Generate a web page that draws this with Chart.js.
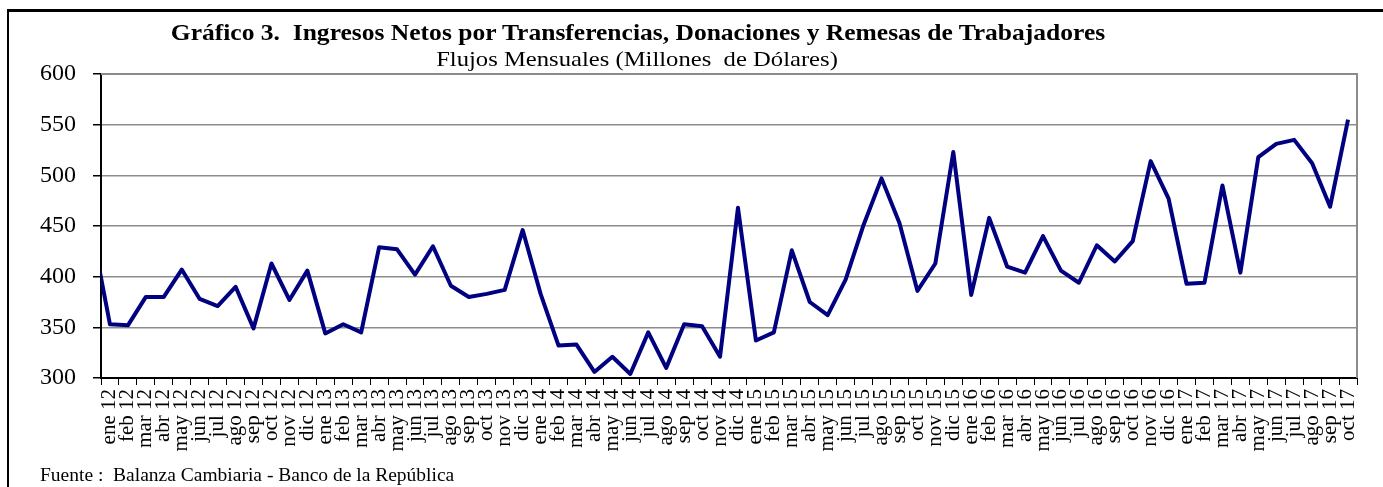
<!DOCTYPE html>
<html lang="es">
<head>
<meta charset="utf-8">
<title>Gráfico 3. Ingresos Netos por Transferencias, Donaciones y Remesas de Trabajadores</title>
<script src="https://cdn.jsdelivr.net/npm/chart.js@4/dist/chart.umd.min.js"></script>
<style>
  html, body { margin: 0; padding: 0; background: #fff; overflow: hidden; }
  #wrap { position: relative; width: 1383px; height: 487px; font-family: "Liberation Serif", "Times New Roman", serif; color: #000; }
  #frame { position: absolute; left: 7px; top: 9px; width: 1400px; height: 500px; border-left: 2px solid #000; border-top: 3px solid #000; }
  #chart { position: absolute; left: 0; top: 0; }
  .txt { position: absolute; white-space: pre; line-height: 1; }
  #title { left: 0; width: 1276px; top: 21px; text-align: center; font-weight: bold; font-size: 23px; transform: scaleX(1.11); transform-origin: 638px 0; }
  #subtitle { left: 0; width: 1274px; top: 48px; text-align: center; font-size: 22px; transform: scaleX(1.12); transform-origin: 637px 0; }
  #source { left: 40px; top: 465px; font-size: 19.5px; }
</style>
</head>
<body>
<div id="wrap">
  <div id="frame"></div>
  <canvas id="chart" width="1383" height="487"></canvas>
  <div class="txt" id="title">Gráfico 3.  Ingresos Netos por Transferencias, Donaciones y Remesas de Trabajadores</div>
  <div class="txt" id="subtitle">Flujos Mensuales (Millones  de Dólares)</div>
  <div class="txt" id="source">Fuente :  Balanza Cambiaria - Banco de la República</div>
</div>
<script>
// Monthly categories; "dic 11" sits just left of the visible axis range
const months = [
  'dic 11',
  'ene 12', 'feb 12', 'mar 12', 'abr 12', 'may 12', 'jun 12', 'jul 12', 'ago 12', 'sep 12', 'oct 12', 'nov 12', 'dic 12',
  'ene 13', 'feb 13', 'mar 13', 'abr 13', 'may 13', 'jun 13', 'jul 13', 'ago 13', 'sep 13', 'oct 13', 'nov 13', 'dic 13',
  'ene 14', 'feb 14', 'mar 14', 'abr 14', 'may 14', 'jun 14', 'jul 14', 'ago 14', 'sep 14', 'oct 14', 'nov 14', 'dic 14',
  'ene 15', 'feb 15', 'mar 15', 'abr 15', 'may 15', 'jun 15', 'jul 15', 'ago 15', 'sep 15', 'oct 15', 'nov 15', 'dic 15',
  'ene 16', 'feb 16', 'mar 16', 'abr 16', 'may 16', 'jun 16', 'jul 16', 'ago 16', 'sep 16', 'oct 16', 'nov 16', 'dic 16',
  'ene 17', 'feb 17', 'mar 17', 'abr 17', 'may 17', 'jun 17', 'jul 17', 'ago 17', 'sep 17', 'oct 17'
];

// Net income, millions of USD
const ingresosNetos = [
  445,
  353, 352, 380, 380, 407, 378, 371, 390, 349, 413, 377, 406,
  344, 353, 345, 429, 427, 402, 430, 391, 380, 383, 387, 446,
  383, 332, 333, 306, 321, 304, 345, 310, 353, 351, 321, 468,
  337, 345, 426, 375, 362, 397, 451, 497, 453, 386, 413, 523,
  382, 458, 410, 404, 440, 406, 394, 431, 415, 435, 514, 477,
  393, 394, 490, 404, 518, 531, 535, 512, 469, 555
];

const firstMonth = 'ene 12';
const yTicks = [300, 350, 400, 450, 500, 550, 600];

// gray frame on the top and right side of the plot area
const plotBorder = {
  id: 'plotBorder',
  beforeDatasetsDraw(chart) {
    const { ctx, chartArea: a } = chart;
    ctx.save();
    ctx.strokeStyle = '#8c8c8c';
    ctx.lineWidth = 2;
    ctx.beginPath();
    ctx.moveTo(a.left, a.top);
    ctx.lineTo(a.right, a.top);
    ctx.lineTo(a.right, a.bottom);
    ctx.stroke();
    ctx.restore();
  }
};

const serif = '"Liberation Serif", "Times New Roman", serif';

new Chart(document.getElementById('chart'), {
  type: 'line',
  data: {
    labels: months,
    datasets: [{
      data: ingresosNetos,
      borderColor: '#000080',
      borderWidth: 4,
      borderJoinStyle: 'round',
      pointRadius: 0,
      tension: 0,
      clip: { left: 0, top: false, right: false, bottom: false }
    }]
  },
  options: {
    responsive: false,
    animation: false,
    layout: { padding: { top: 74, right: 26, left: 0, bottom: 0 } },
    plugins: { legend: { display: false }, tooltip: { enabled: false } },
    scales: {
      x: {
        type: 'category',
        min: firstMonth,
        offset: true,
        afterFit: s => { s.height = 109; },
        grid: { offset: true, drawOnChartArea: false, tickLength: 7, color: '#000', tickColor: '#000' },
        border: { color: '#000', width: 2 },
        ticks: {
          autoSkip: false, minRotation: 90, maxRotation: 90, padding: 4,
          color: '#000', font: { family: serif, size: 21 }
        }
      },
      y: {
        min: yTicks[0],
        max: yTicks[yTicks.length - 1],
        afterFit: s => { s.width = 101; },
        afterBuildTicks: s => { s.ticks = yTicks.map(v => ({ value: v })); },
        grid: {
          color: c => (c.tick && c.tick.value === yTicks[0]) ? 'rgba(0,0,0,0)' : '#8c8c8c',
          lineWidth: 1.5, tickLength: 8, tickColor: '#000'
        },
        border: { color: '#000', width: 2 },
        ticks: { padding: 17, color: '#000', font: { family: serif, size: 24 } }
      }
    }
  },
  plugins: [plotBorder]
});
</script>
</body>
</html>
